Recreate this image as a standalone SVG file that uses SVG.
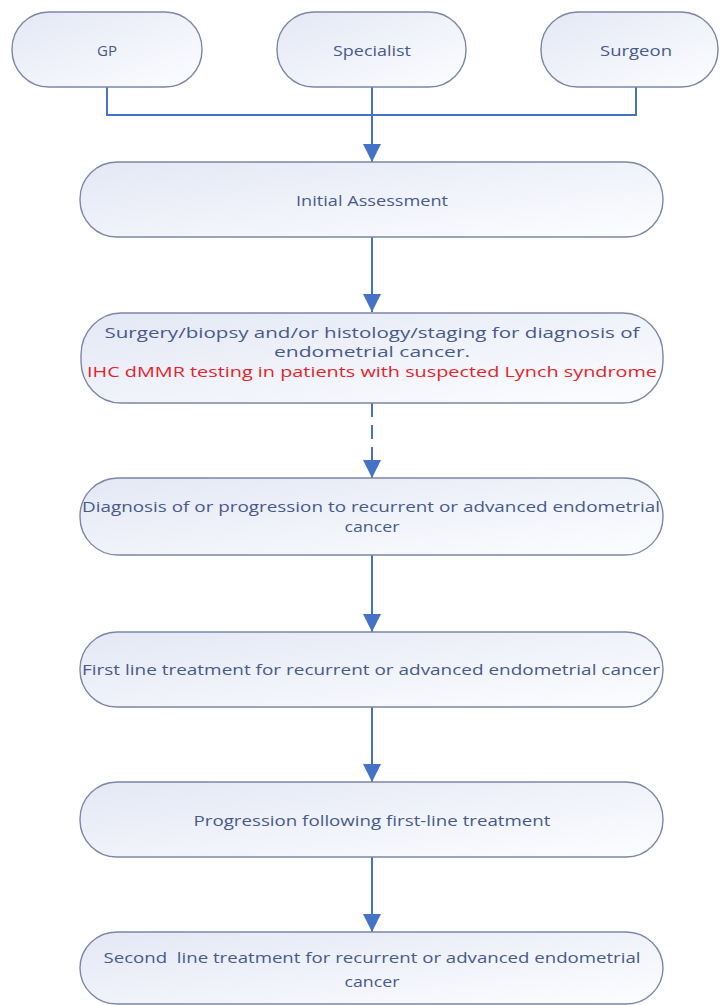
<svg xmlns="http://www.w3.org/2000/svg" width="720" height="1005" viewBox="0 0 720 1005">
<defs>
<linearGradient id="fill" x1="0" y1="0" x2="1" y2="1">
<stop offset="0" stop-color="#e4e8f5"/>
<stop offset="1" stop-color="#fcfdff"/>
</linearGradient>
<marker id="arrow" viewBox="0 0 18 18" refX="18" refY="9" markerWidth="18" markerHeight="18" markerUnits="userSpaceOnUse" orient="auto">
<path d="M0,0 L18,9 L0,18 Z" fill="#4472C4"/>
</marker>
<style>
.box{fill:url(#fill);stroke:#7c86a6;stroke-width:1.4}
.t{font-family:"Open Sans","Liberation Sans",sans-serif;font-size:15px;fill:#475a8c;text-anchor:middle;dominant-baseline:central}
.r{fill:#e3242b}
.c{fill:none;stroke:#4472C4;stroke-width:2}
</style>
</defs>
<rect width="720" height="1005" fill="#ffffff"/>
<g id="connectors">
<path class="c" d="M107,87 V115 H636 V87"/>
<path class="c" d="M372,87 V162" marker-end="url(#arrow)"/>
<path class="c" d="M372,237 V312" marker-end="url(#arrow)"/>
<path class="c" d="M372,403 V478" stroke-dasharray="14,8" marker-end="url(#arrow)"/>
<path class="c" d="M372,555 V632" marker-end="url(#arrow)"/>
<path class="c" d="M372,707 V782" marker-end="url(#arrow)"/>
<path class="c" d="M372,857 V932" marker-end="url(#arrow)"/>
</g>
<g id="gp">
<rect class="box" x="12" y="12" width="190" height="75" rx="37" ry="37"/>
<text class="t" x="107" y="50">GP</text>
</g>
<g id="specialist">
<rect class="box" x="277" y="12" width="189" height="75" rx="37" ry="37"/>
<text class="t" x="372" y="50" textLength="78" lengthAdjust="spacingAndGlyphs">Specialist</text>
</g>
<g id="surgeon">
<rect class="box" x="541" y="12" width="177" height="75" rx="37" ry="37"/>
<text class="t" x="636" y="50" textLength="72" lengthAdjust="spacingAndGlyphs">Surgeon</text>
</g>
<g id="initial">
<rect class="box" x="80" y="162" width="583" height="75" rx="37" ry="37"/>
<text class="t" x="372" y="200" textLength="152" lengthAdjust="spacingAndGlyphs">Initial Assessment</text>
</g>
<g id="surgery">
<rect class="box" x="81" y="313" width="582" height="90" rx="40" ry="42"/>
<text class="t" x="372" y="332" textLength="535" lengthAdjust="spacingAndGlyphs">Surgery/biopsy and/or histology/staging for diagnosis of</text>
<text class="t" x="372" y="351" textLength="196" lengthAdjust="spacingAndGlyphs">endometrial cancer.</text>
<text class="t r" x="372" y="371" textLength="570" lengthAdjust="spacingAndGlyphs">IHC dMMR testing in patients with suspected Lynch syndrome</text>
</g>
<g id="diagnosis">
<rect class="box" x="80" y="478" width="583" height="77" rx="38" ry="38"/>
<text class="t" x="371" y="506" textLength="578" lengthAdjust="spacingAndGlyphs">Diagnosis of or progression to recurrent or advanced endometrial</text>
<text class="t" x="372" y="526" textLength="55" lengthAdjust="spacingAndGlyphs">cancer</text>
</g>
<g id="firstline">
<rect class="box" x="80" y="632" width="583" height="75" rx="37" ry="37"/>
<text class="t" x="371" y="669" textLength="578" lengthAdjust="spacingAndGlyphs">First line treatment for recurrent or advanced endometrial cancer</text>
</g>
<g id="progression">
<rect class="box" x="80" y="782" width="583" height="75" rx="37" ry="37"/>
<text class="t" x="372" y="820" textLength="357" lengthAdjust="spacingAndGlyphs">Progression following first-line treatment</text>
</g>
<g id="secondline">
<rect class="box" x="80" y="932" width="583" height="72" rx="37" ry="37"/>
<text class="t" x="372" y="957" textLength="537" lengthAdjust="spacingAndGlyphs" style="white-space:pre">Second  line treatment for recurrent or advanced endometrial</text>
<text class="t" x="372" y="981" textLength="55" lengthAdjust="spacingAndGlyphs">cancer</text>
</g>
</svg>
